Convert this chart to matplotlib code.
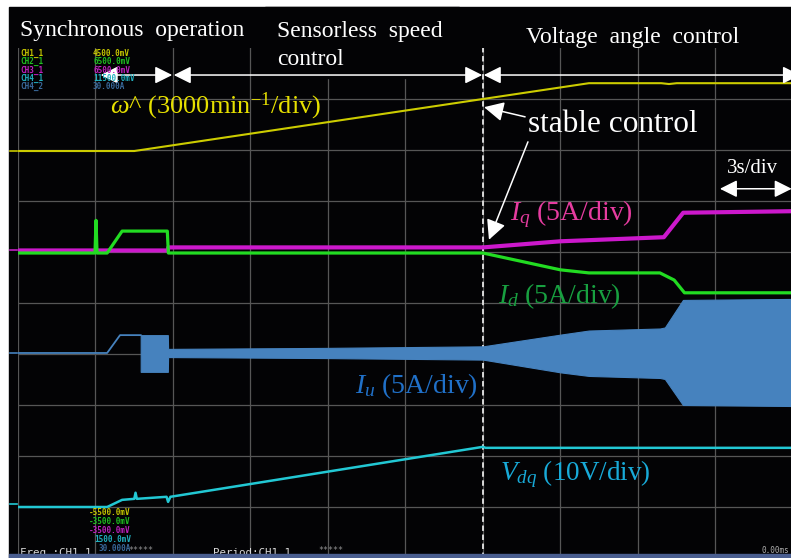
import numpy as np
import matplotlib
matplotlib.use('Agg')
import matplotlib.pyplot as plt
from matplotlib.patches import Rectangle

plt.rcParams['font.family'] = ['Liberation Serif', 'DejaVu Serif']
plt.rcParams['mathtext.fontset'] = 'custom'
plt.rcParams['mathtext.rm'] = 'Liberation Serif'
plt.rcParams['mathtext.it'] = 'Liberation Serif:italic'

###########################################################
# data (time in s, 3 s/div)

t_speed = [0, 4.5, 22.1, 24.9, 25.2, 25.5, 30]
speed = [0, 0, 3990, 3990, 3940, 3990, 3990]            # min^-1

t_id = [0, 2.98, 3.02, 3.06, 3.45, 4.03, 5.78, 5.82, 18.0, 21.0, 22.1,
        24.85, 25.4, 25.8, 30]
i_d = [0, 0, 3.2, 0, 0, 2.15, 2.15, 0, 0, -1.65, -1.95, -1.95, -2.65,
       -3.9, -3.9]                                       # A

t_iq = [0, 5.8, 5.82, 18.0, 21.0, 25.0, 25.75, 30]
i_q = [0, 0, 0.3, 0.3, 0.9, 1.3, 3.7, 3.85]              # A

t_iu = [0, 3.45, 3.95, 4.75]
i_u = [0, 0, 1.75, 1.75]                                 # A
t_iu_env = [4.75, 5.8, 5.81, 12.0, 18.0, 21.0, 22.1, 24.85, 25.04, 25.74, 30]
iu_upper = [1.75, 1.75, 0.4, 0.5, 0.65, 1.8, 2.2, 2.4, 2.5, 5.2, 5.3]
iu_lower = [-1.85, -1.85, -0.4, -0.5, -0.65, -1.9, -2.25, -2.45, -2.55,
            -5.1, -5.2]

t_vdq = [0, 3.45, 4.03, 4.5, 4.55, 4.6, 5.75, 5.81, 5.9, 18.0, 18.1, 30]
v_dq = [0, 0, 1.4, 1.6, 2.8, 1.6, 2.0, 1.0, 2.0, 11.8, 11.6, 11.6]   # V

phase_edges = [3.17, 6.0, 18.0, 30.3]
stable_time = 18.0

ch_names = ['CH1_1', 'CH2_1', 'CH3_1', 'CH4_1', 'CH4_2']
ch_top = ['4500.0mV', '6500.0mV', '6500.0mV', '11500.0mV', '30.000A']
ch_bottom = ['-5500.0mV', '-3500.0mV', '-3500.0mV', '1500.0mV', '30.000A']
ch_colors = ['#c8c800', '#20c020', '#c020c0', '#20b0c0', '#3a6a9c']

###########################################################
# channel settings (zero position in div, units per div)

speed_pos, speed_div = 7.98, 3000
id_pos, iq_pos, iu_pos, cur_div = 5.98, 6.03, 4.02, 5
vdq_pos, vdq_div = 1.0, 10

def to_div(vals, pos, per_div):
    return pos + np.asarray(vals, dtype=float) / per_div

###########################################################
# figure

W, H = 791, 558
fig = plt.figure(figsize=(W / 100, H / 100), dpi=100)
fig.patch.set_facecolor('white')
fig.add_artist(Rectangle((9 / W, 0), 1, 1 - 7 / H, transform=fig.transFigure,
                         color='#030305', zorder=-2))

ax = fig.add_axes([18 / W, 0, 775 / W, 510 / H])
ax.set_xlim(0, 30)
ax.set_ylim(0, 10)
ax.axis('off')

grid_kw = dict(color='#565656', lw=0.9, zorder=1)
for t in np.arange(0, 30, 3):
    ax.axvline(t, **grid_kw)
for d in range(1, 10):
    ax.axhline(d, **grid_kw)

# black box behind the "Sensorless speed control" label
ax.add_patch(Rectangle((9.56, 9.41), 7.5, 1.39, color='#030305', zorder=2,
                       clip_on=False))

ax.axvline(stable_time, color='#e6e6e6', lw=1.3, ls=(0, (3, 2)), zorder=2.5)

# traces
ax.plot(t_speed, to_div(speed, speed_pos, speed_div), color='#cccc00',
        lw=1.5, zorder=3)
ax.plot(t_iq, to_div(i_q, iq_pos, cur_div), color='#cc18cc', lw=3.0,
        zorder=3)
ax.plot(t_id, to_div(i_d, id_pos, cur_div), color='#22dc22', lw=2.3,
        zorder=3.1)
ax.plot(t_iu, to_div(i_u, iu_pos, cur_div), color='#4682be', lw=1.3,
        zorder=3)
ax.fill_between(t_iu_env, to_div(iu_lower, iu_pos, cur_div),
                to_div(iu_upper, iu_pos, cur_div), color='#4682be', lw=0.8,
                edgecolor='#4682be', zorder=3)
ax.plot(t_vdq, to_div(v_dq, vdq_pos, vdq_div), color='#22c8d4', lw=1.8,
        zorder=3)

# channel zero markers on the left edge
for pos, c in [(speed_pos, '#c8c800'), (iq_pos, '#c020c0'),
               (iu_pos, '#4682be'), (vdq_pos + 0.06, '#22c8d4')]:
    ax.plot([-0.3, -0.05], [pos, pos], color=c, lw=1.2, clip_on=False)

# phase arrows
arr = dict(arrowstyle='<|-|>,head_length=0.7,head_width=0.35', color='white',
           lw=1.1, shrinkA=0, shrinkB=0, mutation_scale=15)
for a, b in zip(phase_edges[:-1], phase_edges[1:]):
    ax.annotate('', xy=(a + 0.03, 9.47), xytext=(b - 0.03, 9.47),
                arrowprops=arr, annotation_clip=False, zorder=6)
ax.annotate('', xy=(27.17, 7.24), xytext=(29.95, 7.24), arrowprops=arr,
            annotation_clip=False, zorder=6)
ax.text(27.45, 7.55, '3s/div', color='white', fontsize=15, zorder=6)

# stable control
ax.text(19.74, 8.35, 'stable control', color='white', fontsize=22.5, zorder=6)
one = dict(arrowstyle='-|>,head_length=0.8,head_width=0.4', color='white',
           lw=1.1, shrinkA=0, shrinkB=0, mutation_scale=15)
ax.annotate('', xy=(18.04, 8.84), xytext=(19.63, 8.65), arrowprops=one,
            zorder=6)
ax.annotate('', xy=(18.23, 6.24), xytext=(19.74, 8.16), arrowprops=one,
            zorder=6)

# channel labels
ax.text(3.56, 8.72, r'$\omega$^ (3000min$^{-1}$/div)', color='#e6e000',
        fontsize=19, zorder=6)
ax.text(19.05, 6.63, r'$I_q$ (5A/div)', color='#e63ca0', fontsize=20,
        zorder=6)
ax.text(18.58, 5.0, r'$I_d$ (5A/div)', color='#18a040', fontsize=20,
        zorder=6)
ax.text(13.05, 3.24, r'$I_u$ (5A/div)', color='#2070c8', fontsize=20,
        zorder=6)
ax.text(18.65, 1.53, r'$V_{dq}$ (10V/div)', color='#18aad8', fontsize=19.5,
        zorder=6)

# phase labels
fig.text(20 / W, 1 - 36 / H, 'Synchronous  operation', color='white',
         fontsize=17)
fig.text(277 / W, 1 - 37 / H, 'Sensorless  speed', color='white',
         fontsize=17)
fig.text(277 / W, 1 - 65 / H, 'control', color='white', fontsize=17)
fig.text(526 / W, 1 - 43 / H, 'Voltage  angle  control', color='white',
         fontsize=17)

# scope readouts
mono = dict(family='DejaVu Sans Mono', fontweight='bold', fontsize=5.5)
for k in range(5):
    fig.text(20 / W, 1 - (56 + 8.3 * k) / H, ch_names[k], color=ch_colors[k],
             **mono)
    fig.text(93 / W, 1 - (56 + 8.3 * k) / H, ch_top[k], color=ch_colors[k],
             **mono)
    fig.text(131 / W, 1 - (515 + 9 * k) / H, ch_bottom[k], ha='right',
             color=ch_colors[k], **mono)
foot = dict(family='DejaVu Sans Mono', fontsize=7.8, color='#d8d8d8')
fig.text(20 / W, 1 - 555 / H, 'Freq :CH1_1', **foot)
fig.text(128 / W, 1 - 553 / H, '*****', family='DejaVu Sans Mono',
         fontsize=6, color='#909090')
fig.text(213 / W, 1 - 555 / H, 'Period:CH1_1', **foot)
fig.text(318 / W, 1 - 553 / H, '*****', family='DejaVu Sans Mono',
         fontsize=6, color='#909090')
fig.text(762 / W, 1 - 553 / H, '0.00ms', family='DejaVu Sans Mono',
         fontsize=5.5, color='#b0b0b0')

fig.add_artist(Rectangle((9 / W, 0), 1, 4 / H, transform=fig.transFigure,
                         color='#4a5e90', zorder=5))

fig.savefig('out.png', dpi=100)
